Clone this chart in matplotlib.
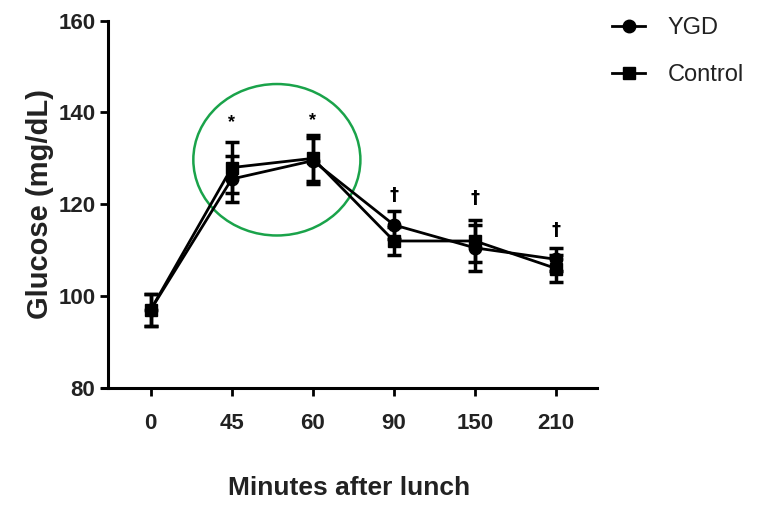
import matplotlib.pyplot as plt
from matplotlib.patches import Ellipse
import numpy as np

plt.rcParams['font.family'] = ['Liberation Sans', 'DejaVu Sans']

minutes = ['0', '45', '60', '90', '150', '210']
ygd = [97, 125.5, 129.5, 115.5, 110.5, 108]
ygd_err = [3.5, 5, 5, 3, 5, 2.5]
control = [97, 128, 130, 112, 112, 106]
control_err = [3.5, 5.5, 5, 3, 4.5, 3]
star_pos = [1, 2]
star_y = [137.8, 138.3]
dagger_pos = [3, 4, 5]
dagger_y = [122, 121.3, 114.5]

x = np.arange(len(minutes))

fig = plt.figure(figsize=(7.67, 5.05), dpi=100)
ax = fig.add_axes([0.133, 0.232, 0.645, 0.727])

# error bars first, then lines so the legend shows plain line + marker
ax.errorbar(x, ygd, yerr=ygd_err, fmt='none', ecolor='black',
            elinewidth=2.5, capsize=5, capthick=2.5)
ax.errorbar(x, control, yerr=control_err, fmt='none', ecolor='black',
            elinewidth=2.5, capsize=5, capthick=2.5)
ax.plot(x, ygd, color='black', marker='o', markersize=9, linewidth=2, label='YGD')
ax.plot(x, control, color='black', marker='s', markersize=9, linewidth=2, label='Control')

for px, py in zip(star_pos, star_y):
    ax.text(px, py, '*', ha='center', va='center', fontsize=13, fontweight='bold')
for px, py in zip(dagger_pos, dagger_y):
    ax.text(px, py, '\u2020', ha='center', va='center', fontsize=13, fontweight='bold',
            family=['DejaVu Sans'])

ax.add_patch(Ellipse((1.556, 129.7), 2.06, 33, fill=False, edgecolor='#1aa34a',
                     linewidth=1.8, clip_on=False))

ax.set_xlim(-0.6, 5.5)
ax.set_ylim(80, 160)
ax.set_xticks(x)
ax.set_xticklabels(minutes)
ax.set_yticks([80, 100, 120, 140, 160])
ax.spines['top'].set_visible(False)
ax.spines['right'].set_visible(False)
ax.spines['left'].set_position(('data', -0.52))
ax.spines['left'].set_linewidth(2.2)
ax.spines['bottom'].set_linewidth(2.2)
ax.tick_params(width=2, length=6, labelsize=16)
ax.tick_params(axis='x', pad=12)
for lab in ax.get_xticklabels() + ax.get_yticklabels():
    lab.set_fontweight('bold')
    lab.set_color('#222222')

ax.set_xlabel('Minutes after lunch', fontsize=19, fontweight='bold', labelpad=30,
              color='#222222')
ax.set_ylabel('Glucose (mg/dL)', fontsize=21, fontweight='bold', labelpad=3,
              color='#222222')

fig.legend(loc='upper left', bbox_to_anchor=(0.798, 0.966), frameon=False, fontsize=17,
           handlelength=1.4, labelspacing=1.05, handletextpad=0.95,
           borderpad=0, borderaxespad=0, labelcolor='#222222')

fig.savefig('out.png', dpi=100)
